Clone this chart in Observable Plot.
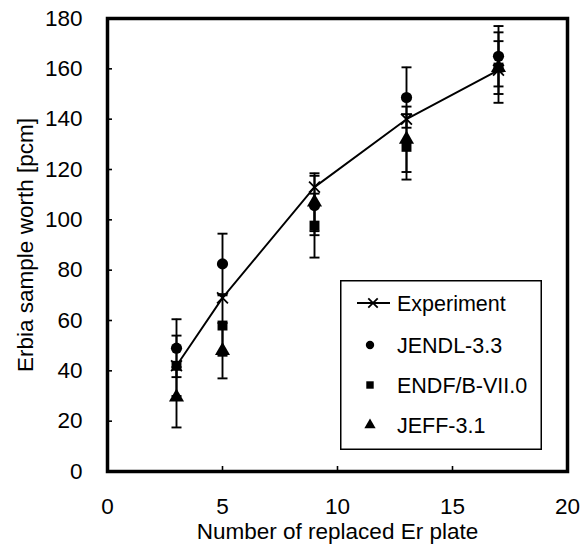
<!DOCTYPE html>
<html>
<head>
<meta charset="utf-8">
<script src="https://cdn.jsdelivr.net/npm/d3@7"></script>
<script src="https://cdn.jsdelivr.net/npm/@observablehq/plot@0.6"></script>
<style>
  html, body { margin: 0; padding: 0; background: white; }
  #wrap { position: relative; width: 580px; height: 548px; font-family: "Liberation Sans", Arial, sans-serif; }
  #legend { position: absolute; left: 340px; top: 280px; }
</style>
</head>
<body>
<div id="wrap"></div>
<script>
// ---- data ----
const plates = [3, 5, 9, 13, 17];
const experiment = [42, 69, 113, 140, 159.5];
const jendl = [49, 82.5, 105.7, 148.6, 165];
const jendlErr = [11.5, 12, 11.8, 12, 12];
const endf = [42, 58, 97.7, 129, 160.5];
const endfErr = [12, 12, 12.7, 13, 14];
const jeff = [29.5, 48, 107, 132, 160.5];
const jeffErr = [12, 11, 11.5, 13, 10.5];
const seriesNames = ["Experiment", "JENDL-3.3", "ENDF/B-VII.0", "JEFF-3.1"];
const xTicks = [0, 5, 10, 15, 20];
const yTicks = [0, 20, 40, 60, 80, 100, 120, 140, 160, 180];
const xLabel = "Number of replaced Er plate";
const yLabel = "Erbia sample worth [pcm]";

// ---- tables built from the arrays ----
const expRows = plates.map((x, i) => ({x, y: experiment[i]}));
const calc = [
  {name: seriesNames[1], vals: jendl, err: jendlErr, symbol: "circle"},
  {name: seriesNames[2], vals: endf, err: endfErr, symbol: "square"},
  {name: seriesNames[3], vals: jeff, err: jeffErr, symbol: "triangle"}
];
const calcRows = calc.flatMap(s => plates.map((x, i) => ({
  series: s.name, symbol: s.symbol, x, y: s.vals[i], lo: s.vals[i] - s.err[i], hi: s.vals[i] + s.err[i]
})));
const capRows = calcRows.flatMap(d => [{x: d.x, y: d.lo}, {x: d.x, y: d.hi}]);

// horizontal cap symbol
const capSymbol = {
  draw(ctx, size) {
    const w = Math.sqrt(size / Math.PI);
    ctx.moveTo(-w, 0);
    ctx.lineTo(w, 0);
  }
};

const font = '"Liberation Sans", Arial, sans-serif';

const chart = Plot.plot({
  width: 580,
  height: 548,
  marginLeft: 107,
  marginRight: 13,
  marginTop: 18,
  marginBottom: 77,
  style: {fontFamily: font, fontSize: "22px", color: "black", background: "white"},
  x: {domain: [0, 20]},
  y: {domain: [0, 180]},
  marks: [
    Plot.axisX({ticks: xTicks, tickSize: -5, tickPadding: 32, label: null, fontSize: 22.5, strokeWidth: 1.6}),
    Plot.axisY({ticks: yTicks, tickSize: -5, tickPadding: 30, label: null, fontSize: 22.5, strokeWidth: 1.6}),
    Plot.text([xLabel], {frameAnchor: "bottom", dy: 60, textAnchor: "middle", lineAnchor: "middle", fontSize: 22.5, fill: "black"}),
    Plot.text([yLabel], {frameAnchor: "left", dx: -82, rotate: -90, textAnchor: "middle", lineAnchor: "middle", fontSize: 22.5, fill: "black"}),
    Plot.ruleX(calcRows, {x: "x", y1: "lo", y2: "hi", stroke: "black", strokeWidth: 1.9}),
    Plot.dot(capRows, {x: "x", y: "y", symbol: capSymbol, r: 5, stroke: "black", strokeWidth: 1.9, fill: "none"}),
    Plot.line(expRows, {x: "x", y: "y", stroke: "black", strokeWidth: 1.9}),
    Plot.dot(expRows, {x: "x", y: "y", symbol: "times", r: 5, stroke: "black", strokeWidth: 1.8}),
    Plot.dot(calcRows, {x: "x", y: "y", symbol: "symbol", r: 5.6, fill: "black", stroke: "none"}),
    Plot.frame({stroke: "black", strokeWidth: 3.5})
  ]
});
chart.style.display = "block";
document.getElementById("wrap").appendChild(chart);

// ---- legend (SVG overlay inside the plot) ----
const lw = 202, lh = 170;
const leg = d3.select("#wrap").append("svg")
  .attr("id", "legend").attr("width", lw).attr("height", lh);
leg.append("rect").attr("x", 0.75).attr("y", 0.75).attr("width", lw - 1.5).attr("height", lh - 1.5)
  .attr("fill", "white").attr("stroke", "black").attr("stroke-width", 1.5);
const rowsY = [23, 65, 105, 145];
const legendSymbols = ["times", "circle", "square", "triangle"];
const symMap = {times: d3.symbolTimes, circle: d3.symbolCircle, square: d3.symbolSquare, triangle: d3.symbolTriangle};
seriesNames.forEach((name, i) => {
  const g = leg.append("g").attr("transform", `translate(0,${rowsY[i]})`);
  if (i === 0) {
    g.append("line").attr("x1", 17).attr("x2", 50).attr("y1", 0).attr("y2", 0)
      .attr("stroke", "black").attr("stroke-width", 1.8);
    g.append("path").attr("transform", "translate(33,0)")
      .attr("d", d3.symbol(symMap.times, 60)()).attr("fill", "none").attr("stroke", "black").attr("stroke-width", 1.8);
  } else {
    g.append("path").attr("transform", "translate(30,0)")
      .attr("d", d3.symbol(symMap[legendSymbols[i]], 55)()).attr("fill", "black");
  }
  g.append("text").attr("x", 57).attr("y", 0).attr("dy", "0.35em")
    .attr("font-family", font).attr("font-size", 21.5).attr("fill", "black").text(name);
});
</script>
</body>
</html>
